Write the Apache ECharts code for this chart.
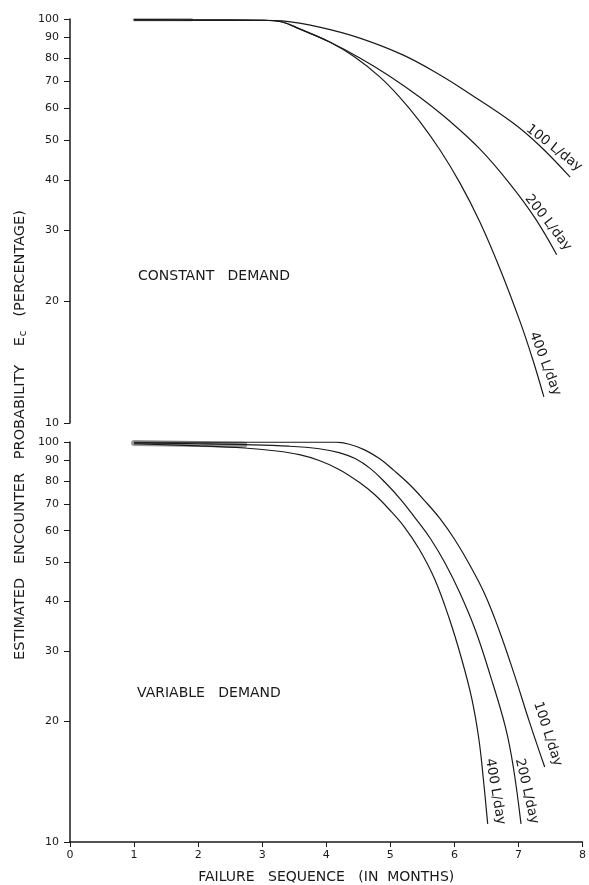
<!DOCTYPE html>
<html>
<head>
<meta charset="utf-8">
<script src="https://cdn.jsdelivr.net/npm/echarts@6/dist/echarts.min.js"></script>
<style>
html,body{margin:0;padding:0;background:#fff;}
#chart{width:589px;height:885px;}
</style>
</head>
<body>
<div id="chart"></div>
<script>
// ---- data ----
const xTickLabels = [0, 1, 2, 3, 4, 5, 6, 7, 8];
const yTickLabels = [10, 20, 30, 40, 50, 60, 70, 80, 90, 100];

// Constant demand
const constX100 = [1, 2, 3, 3.31, 3.89, 4.52, 5.19, 5.77, 6.19, 6.91, 7.33, 7.80];
const constY100 = [99.5, 99.4, 99.3, 98.9, 95.5, 89.7, 81.5, 72.7, 66.0, 55.3, 48.5, 40.6];
const constX200 = [1, 2, 3, 3.31, 3.58, 4.05, 4.52, 4.98, 5.45, 5.92, 6.39, 6.86, 7.25, 7.59];
const constY200 = [99.5, 99.4, 99.3, 98.3, 94.5, 87.7, 80.1, 72.3, 64.1, 55.9, 47.7, 39.1, 32.2, 26.1];
const constX400 = [1, 2, 3, 3.31, 3.58, 4.05, 4.44, 4.83, 5.14, 5.45, 5.77, 6.08, 6.39, 6.70, 7.02, 7.22, 7.39];
const constY400 = [99.5, 99.4, 99.3, 98.3, 94.5, 87.7, 80.5, 71.9, 64.1, 55.9, 47.4, 39.3, 31.5, 24.2, 17.8, 14.3, 11.6];
const constBandX = [1, 1.9];
const constBandY = [99.6, 99.6];

// Variable demand
const varX100 = [1, 2, 2.72, 3.5, 4.15, 4.36, 4.59, 4.83, 5.06, 5.30, 5.53, 5.77, 6.00, 6.23, 6.47, 6.70, 6.94, 7.17, 7.41];
const varY100 = [99.9, 99.9, 99.9, 99.9, 99.9, 98.7, 95.7, 90.9, 84.8, 78.3, 71.5, 64.5, 57.2, 49.6, 41.8, 33.8, 26.1, 20.0, 15.4];
const varX200 = [1, 2, 2.72, 3.42, 3.89, 4.20, 4.45, 4.69, 4.92, 5.16, 5.39, 5.63, 5.86, 6.09, 6.33, 6.56, 6.80, 6.92, 7.04];
const varY200 = [99.5, 99.0, 98.5, 97.6, 96.2, 94.1, 90.9, 85.8, 79.2, 71.9, 64.5, 57.2, 49.6, 41.8, 33.8, 26.1, 19.3, 15.4, 11.1];
const varX400 = [1, 2, 2.72, 3.19, 3.58, 3.89, 4.20, 4.52, 4.75, 4.98, 5.22, 5.45, 5.69, 5.92, 6.11, 6.27, 6.38, 6.45, 6.52];
const varY400 = [99.0, 97.8, 96.6, 95.1, 93.0, 89.9, 85.4, 79.2, 74.0, 67.9, 61.3, 54.0, 45.5, 36.2, 28.8, 22.9, 18.2, 14.5, 11.1];
const varBandX = [1, 2.72];
const varBandY = [99.4, 98.4];

const seriesNames = ['100 L/day', '200 L/day', '400 L/day'];
const panelTitles = ['CONSTANT   DEMAND', 'VARIABLE   DEMAND'];
const xTitle = 'FAILURE   SEQUENCE   (IN  MONTHS)';

// ---- build ----
const FONT = 'DejaVu Sans';
const INK = '#1a1a1a';
const zip = (xs, ys) => xs.map((x, i) => [x, ys[i]]);
const logTicks = yTickLabels.map(v => Math.log10(v));

function curve(name, xs, ys, xi, yi, rot) {
  const d = zip(xs, ys);
  return {
    name: name, type: 'line', xAxisIndex: xi, yAxisIndex: yi,
    data: d, smooth: 0.4, symbol: 'none',
    lineStyle: {color: INK, width: 1.2},
    markPoint: {
      symbol: 'circle', symbolSize: 1,
      itemStyle: {color: 'rgba(0,0,0,0)'},
      data: [{coord: d[d.length - 1]}],
      label: {
        show: true, formatter: name, position: 'inside',
        rotate: rot, align: 'right', verticalAlign: 'bottom', offset: [3, -6],
        fontFamily: FONT, fontSize: 13.5, color: INK
      }
    }
  };
}
function band(xs, ys, xi, yi, w) {
  return {type: 'line', xAxisIndex: xi, yAxisIndex: yi, data: zip(xs, ys), symbol: 'none',
    lineStyle: {color: '#9a9a9a', width: w, cap: 'round'}, z: 1};
}
function helperY(gi) {
  return {
    gridIndex: gi, type: 'value', min: 1, max: 2, position: 'left',
    axisLine: {show: true, onZero: false, lineStyle: {color: INK, width: 1.5}},
    axisTick: {show: true, customValues: logTicks, length: 6, lineStyle: {color: INK, width: 1}},
    axisLabel: {show: true, customValues: logTicks, margin: 11, fontFamily: FONT, fontSize: 11, color: INK,
      formatter: v => String(Math.round(Math.pow(10, v)))},
    splitLine: {show: false}
  };
}

const option = {
  animation: false,
  backgroundColor: '#ffffff',
  grid: [
    {left: 70, top: 19, width: 513, height: 404},
    {left: 70, top: 442, width: 513, height: 403}
  ],
  xAxis: [
    {gridIndex: 0, type: 'value', min: 0, max: 8, interval: 1, show: false},
    {gridIndex: 1, type: 'value', min: 0, max: 8, interval: 1,
      axisLine: {onZero: false, lineStyle: {color: INK, width: 1.5}},
      axisTick: {inside: false, length: 5, lineStyle: {color: INK}},
      axisLabel: {margin: 8, fontFamily: FONT, fontSize: 11, color: INK,
        formatter: v => String(xTickLabels[Math.round(v)])},
      splitLine: {show: false},
      name: xTitle, nameLocation: 'middle', nameGap: 28,
      nameTextStyle: {fontFamily: FONT, fontSize: 14, color: INK}}
  ],
  yAxis: [
    {gridIndex: 0, type: 'log', logBase: 10, min: 10, max: 100, position: 'left', show: false},
    helperY(0),
    {gridIndex: 1, type: 'log', logBase: 10, min: 10, max: 100, position: 'left', show: false},
    helperY(1)
  ],
  graphic: [
    {type: 'text', x: 20, y: 435, rotation: Math.PI / 2,
      style: {text: 'ESTIMATED   ENCOUNTER   PROBABILITY    E{sub|c}   (PERCENTAGE)',
        fontFamily: FONT, fontSize: 14.5, fill: INK, align: 'center', verticalAlign: 'middle',
        rich: {sub: {fontFamily: FONT, fontSize: 10.5, fill: INK, padding: [7, 0, 0, 1]}}}},
    {type: 'text', x: 138, y: 276,
      style: {text: panelTitles[0], fontFamily: FONT, fontSize: 14, fill: INK, align: 'left', verticalAlign: 'middle'}},
    {type: 'text', x: 137, y: 693,
      style: {text: panelTitles[1], fontFamily: FONT, fontSize: 14, fill: INK, align: 'left', verticalAlign: 'middle'}}
  ],
  series: [
    band(constBandX, constBandY, 0, 0, 3),
    curve(seriesNames[0], constX100, constY100, 0, 0, -38),
    curve(seriesNames[1], constX200, constY200, 0, 0, -52),
    curve(seriesNames[2], constX400, constY400, 0, 0, -69),
    band(varBandX, varBandY, 1, 2, 6),
    curve(seriesNames[0], varX100, varY100, 1, 2, -72),
    curve(seriesNames[1], varX200, varY200, 1, 2, -77),
    curve(seriesNames[2], varX400, varY400, 1, 2, -80)
  ]
};

const chart = echarts.init(document.getElementById('chart'), null, {renderer: 'canvas'});
chart.setOption(option);
</script>
</body>
</html>
